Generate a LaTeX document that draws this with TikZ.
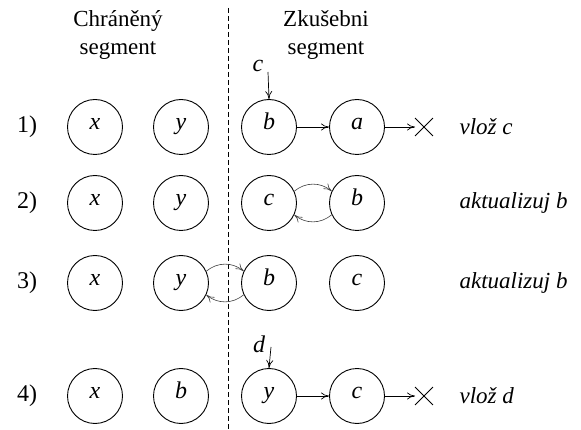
\documentclass[tikz,border=0pt]{standalone}
\usepackage{fontspec}
\setmainfont{Liberation Serif}
\usetikzlibrary{arrows.meta,shapes.misc}
\begin{document}
\begin{tikzpicture}[x=1pt,y=-1pt,
  cnode/.style={draw,circle,minimum size=55pt,inner sep=0pt,line width=0.9pt,text height=1ex,text depth=0pt,font=\fontsize{24}{24}\selectfont\itshape},
  conn/.style={-{To[length=8pt,width=7pt]},line width=0.7pt},
  curv/.style={-{To[length=8pt,width=7pt]},line width=0.6pt,draw=black!75},
  hdr/.style={align=center,font=\fontsize{23}{28}\selectfont},
  rowlab/.style={font=\fontsize{24}{24}\selectfont},
  lab/.style={font=\fontsize{24}{24}\selectfont\itshape},
  act/.style={anchor=west,font=\fontsize{23}{23}\selectfont\itshape},
  cross/.style={draw,cross out,minimum size=17pt,inner sep=0pt,line width=0.9pt}]
\useasboundingbox (0,0) rectangle (581,430);
\node[hdr] (h1) at (118,35) {Chráněný\\segment};
\node[hdr] (h2) at (326,35) {Zkušebni\\segment};
\coordinate (dtop) at (228,8);
\coordinate (dbot) at (228,430);
\draw[dashed,line width=0.6pt,dash pattern=on 5pt off 3pt] (dtop) -- (dbot);
% row labels
\node[rowlab] (r1) at (27,127) {1)};
\node[rowlab] (r2) at (27,203) {2)};
\node[rowlab] (r3) at (27,283) {3)};
\node[rowlab] (r4) at (27,396) {4)};
% row 1
\node[cnode] (x1) at (95,127) {x};
\node[cnode] (y1) at (181,127) {y};
\node[cnode] (b1) at (269,127) {b};
\node[cnode] (a1) at (357,127) {a};
\node[cross] (X1) at (424,127) {};
\draw[conn] (b1) -- (a1);
\draw[conn] (a1) -- (X1);
\node[lab] (c1) at (258,66) {c};
\coordinate (c1s) at (268,72);
\draw[conn] (c1s) -- (b1.north);
\node[act] (t1) at (456,127) {vlož c};
% row 2
\node[cnode] (x2) at (95,203) {x};
\node[cnode] (y2) at (181,203) {y};
\node[cnode] (c2) at (269,203) {c};
\node[cnode] (b2) at (357,203) {b};
\draw[curv] (c2.25) to[bend left=40] (b2.155);
\draw[curv] (b2.205) to[bend left=40] (c2.335);
\node[act] (t2) at (456,203) {aktualizuj b};
% row 3
\node[cnode] (x3) at (95,283) {x};
\node[cnode] (y3) at (181,283) {y};
\node[cnode] (b3) at (269,283) {b};
\node[cnode] (c3) at (357,283) {c};
\draw[curv] (y3.25) to[bend left=40] (b3.155);
\draw[curv] (b3.205) to[bend left=40] (y3.335);
\node[act] (t3) at (456,283) {aktualizuj b};
% row 4
\node[cnode] (x4) at (95,396) {x};
\node[cnode] (b4) at (181,396) {b};
\node[cnode] (y4) at (269,396) {y};
\node[cnode] (c4) at (357,396) {c};
\node[cross] (X4) at (424,396) {};
\draw[conn] (y4) -- (c4);
\draw[conn] (c4) -- (X4);
\node[lab] (d4) at (259,344) {d};
\coordinate (d4s) at (271,347);
\draw[conn] (d4s) -- (y4.north);
\node[act] (t4) at (456,396) {vlož d};
\end{tikzpicture}
\end{document}
